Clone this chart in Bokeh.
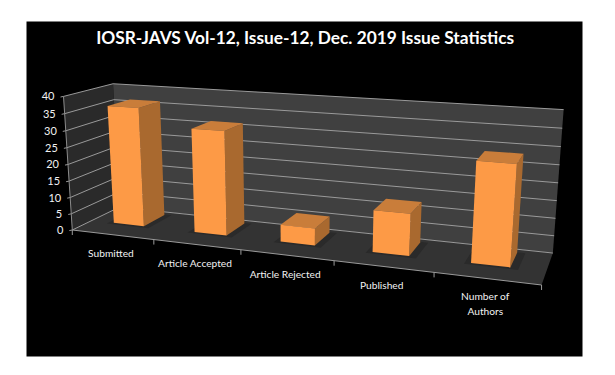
import numpy as np
from bokeh.plotting import figure
from bokeh.embed import file_html
from bokeh.resources import INLINE
from bokeh.core.properties import value

title = "IOSR-JAVS Vol-12, Issue-12, Dec. 2019 Issue Statistics"
categories = ["Submitted", "Article Accepted", "Article Rejected", "Published", "Number of\nAuthors"]
counts = [36, 31, 5, 12, 28]
y_ticks = [0, 5, 10, 15, 20, 25, 30, 35, 40]

# Perspective calibration: (category position, depth, value) -> page pixel
calib = [
    (0, 0, 0, 72.7, 228), (0, 0, 40, 62.3, 95.7), (0, 1, 40, 113.3, 82.7), (0, 1, 0, 118, 208),
    (5, 1, 0, 552.7, 250.7), (5, 1, 40, 563, 110), (5, 0, 0, 541.7, 284),
    (1, 0, 0, 154, 239), (2, 0, 0, 240, 250), (3, 0, 0, 333, 260.7), (4, 0, 0, 433, 273),
]
A = []
for u, d, v, x, y in calib:
    A.append([u, d, v, 1, 0, 0, 0, 0, -x*u, -x*d, -x*v, -x])
    A.append([0, 0, 0, 0, u, d, v, 1, -y*u, -y*d, -y*v, -y])
P = np.linalg.svd(np.array(A, float))[2][-1].reshape(3, 4)


def proj(u, d, v):
    h = P @ np.array([u, d, v, 1.0])
    return h[0] / h[2], h[1] / h[2]


def poly(pts):
    xy = [proj(*q) for q in pts]
    return [a for a, _ in xy], [b for _, b in xy]


p = figure(width=599, height=359, x_range=(0, 599), y_range=(359, 0), output_backend="svg",
           toolbar_location=None, min_border=0, outline_line_color=None,
           background_fill_color="white", border_fill_color="white")
p.axis.visible = False
p.grid.visible = False

p.quad(left=26, right=582, top=21, bottom=356, fill_color="black", line_color=None)

n = len(categories)
vmax = y_ticks[-1]


def face(pts, color):
    xs, ys = poly(pts)
    p.patch(xs, ys, fill_color=color, line_color=None)


face([(0, 0, 0), (0, 1, 0), (0, 1, vmax), (0, 0, vmax)], "#2a2a2a")
face([(0, 1, 0), (n, 1, 0), (n, 1, vmax), (0, 1, vmax)], "#404040")
face([(0, 0, 0), (n, 0, 0), (n, 1, 0), (0, 1, 0)], "#333333")

for t in y_ticks:
    xs, ys = poly([(0, 0, t), (0, 1, t), (n, 1, t)])
    p.line(xs, ys, line_color="#9a9a9a", line_width=1)
    x0, y0 = proj(0, 0, t)
    p.line([x0 - 3, x0], [y0 + 0.6, y0], line_color="#9a9a9a", line_width=1)

xs, ys = poly([(0, 0, 0), (0, 0, vmax)])
p.line(xs, ys, line_color="#8c8c8c", line_width=1)
xs, ys = poly([(0, 0, 0), (n, 0, 0)])
p.line(xs, ys, line_color="#9a9a9a", line_width=1)
for i in range(n + 1):
    x0, y0 = proj(i, 0, 0)
    p.line([x0, x0], [y0, y0 + 5], line_color="#9a9a9a", line_width=1)

u_c = 0.47
u_half = 0.19
d0, d1 = 0.4, 0.88
for i, c in enumerate(counts):
    u0, u1 = i + u_c - u_half, i + u_c + u_half
    face([(u0 - 0.06, d0 - 0.05, 0), (u1 + 0.08, d0 - 0.05, 0), (u1 + 0.08, d1 + 0.02, 0), (u0 - 0.06, d1 + 0.02, 0)], "#2a2a2a")
    face([(u1, d0, 0), (u1, d1, 0), (u1, d1, c), (u1, d0, c)], "#a9692f")
    face([(u0, d0, c), (u1, d0, c), (u1, d1, c), (u0, d1, c)], "#c97d3a")
    face([(u0, d0, 0), (u1, d0, 0), (u1, d0, c), (u0, d0, c)], "#fd9a46")

p.text([305], [37], text=[title], text_font=value("Lato"), text_font_style="bold", text_font_size="17.3px",
       text_color="white", text_align="center", text_baseline="middle")

tx, ty = zip(*[proj(0, 0, t) for t in y_ticks])
p.text([a - 9 for a in tx], list(ty), text=[str(t) for t in y_ticks], text_font=value("Lato"), text_font_size="11px",
       text_color="#f2f2f2", text_align="right", text_baseline="middle")

cx, cy = zip(*[proj(i + 0.5, 0, 0) for i in range(n)])
p.text([a - 1.5 for a in cx], [b + 18.5 + 6.5 * c.count("\n") for b, c in zip(cy, categories)], text=categories,
       text_font=value("Lato"), text_font_size="10.2px",
       text_color="#f2f2f2", text_align="center", text_baseline="middle", text_line_height=1.25)

open("out.html", "w").write(file_html(p, INLINE))
